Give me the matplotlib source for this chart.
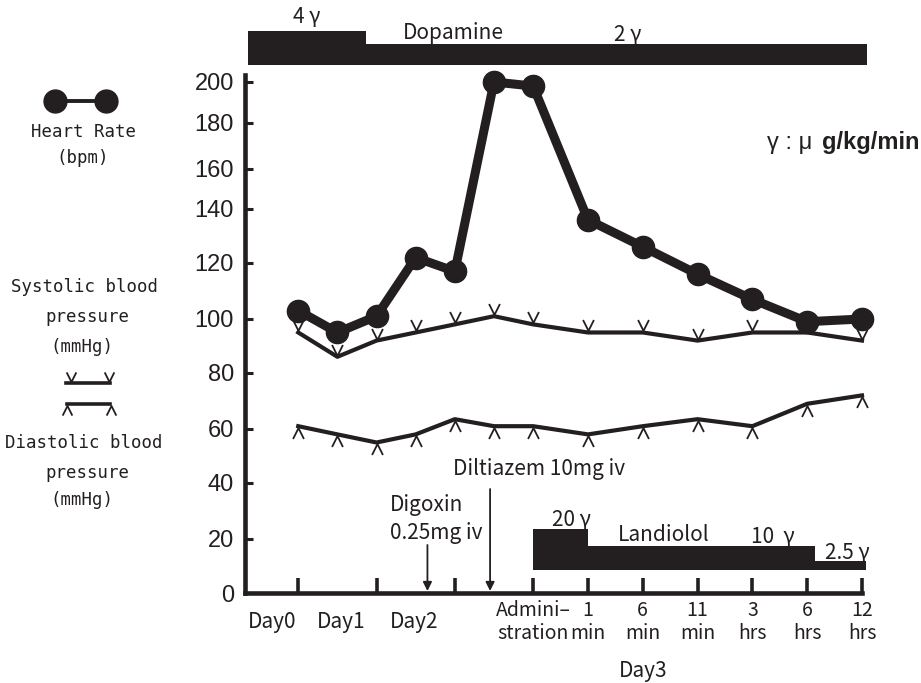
import numpy as np
import matplotlib
matplotlib.use("Agg")
import matplotlib.pyplot as plt
from matplotlib.patches import Rectangle
from matplotlib.path import Path
from matplotlib.transforms import blended_transform_factory

INK = '#231f20'
plt.rcParams['font.family'] = ['Noto Sans CJK JP', 'DejaVu Sans']
plt.rcParams['text.color'] = INK

# time slots: Day0..Day2 in half days, then Day3 time points
slots = [0, 0.5, 1, 1.5, 2, 2.5, 3, 4, 5, 6, 7, 8, 9]
heart_rate = [103, 95, 101, 122, 117, 200, 198, 136, 126, 116, 107, 99, 100]
systolic = [95, 86, 92, 95, 98, 101, 98, 95, 95, 92, 95, 95, 92]
diastolic = [61, 58, 55, 58, 63.5, 61, 61, 58, 61, 63.5, 61, 69, 72]

tick_slots = [0, 1, 2, 3, 4, 5, 6, 7, 8, 9]
tick_labels = ['', '', '', 'Admini–\nstration', '1\nmin', '6\nmin', '11\nmin',
               '3\nhrs', '6\nhrs', '12\nhrs']
day_labels = ['Day0', 'Day1', 'Day2']
day_label_slots = [-0.33, 0.55, 1.48]
y_ticks = [0, 20, 40, 60, 80, 100, 120, 140, 160, 180, 200]

# drug infusions
dopamine_start = [-0.64, 0.87]
dopamine_end = [0.87, 9.1]
landiolol_start = [3, 4, 8.15]
landiolol_end = [4, 8.15, 9.08]
digoxin_slot = 1.65
diltiazem_slot = 2.45

# the printed y axis is not evenly spaced, follow its tick spacing
y_marks = [0, 20, 40, 60, 80, 100, 120, 140, 160, 180, 200, 220]
y_room = [0, 54, 110, 164, 220, 274, 330, 384, 424, 470, 511, 552]


def y_fwd(v):
    return np.interp(v, y_marks, y_room)


def y_inv(u):
    return np.interp(u, y_room, y_marks)


# Day3 hours are drawn closer together than the days
def x_fwd(x):
    x = np.asarray(x, dtype=float)
    return np.where(x <= 3, x, 3 + 0.7 * (x - 3))


def x_inv(u):
    u = np.asarray(u, dtype=float)
    return np.where(u <= 3, u, 3 + (u - 3) / 0.7)


fig = plt.figure(figsize=(9.21, 6.83), dpi=100)
ax = fig.add_axes([245 / 921, 90 / 683, 617 / 921, 518 / 683])
ax.set_xscale('function', functions=(x_fwd, x_inv))
ax.set_yscale('function', functions=(y_fwd, y_inv))
ax.set_xlim(-0.68, 9.0)
ax.set_ylim(0, 203.4)

for s in ['top', 'right']:
    ax.spines[s].set_visible(False)
for s in ['left', 'bottom']:
    ax.spines[s].set_linewidth(3.3)
    ax.spines[s].set_color(INK)

ax.set_yticks(y_ticks)
ax.set_yticklabels([str(v) for v in y_ticks],
                   family=['Liberation Sans', 'DejaVu Sans'])
ax.tick_params(axis='y', direction='in', length=5.5, width=2.2, color=INK,
               labelsize=17, pad=8, labelcolor=INK)
ax.set_xticks(tick_slots)
ax.set_xticklabels(tick_labels, linespacing=1.15)
ax.tick_params(axis='x', direction='in', length=11, width=2.6, color=INK,
               labelsize=14, pad=5, labelcolor=INK)
ax.minorticks_off()

v_mark = Path([(-0.5, 1.15), (0, 0.15), (0.5, 1.15)],
              [Path.MOVETO, Path.LINETO, Path.LINETO])
a_mark = Path([(-0.5, -1.15), (0, -0.15), (0.5, -1.15)],
              [Path.MOVETO, Path.LINETO, Path.LINETO])

# Blood pressure
ax.plot(slots, systolic, color=INK, lw=3, zorder=3, clip_on=False)
ax.plot(slots, systolic, ls='none', marker=v_mark, ms=18, mfc='none',
        mec=INK, mew=1.3, zorder=3, clip_on=False)
ax.plot(slots, diastolic, color=INK, lw=3, zorder=3, clip_on=False)
ax.plot(slots, diastolic, ls='none', marker=a_mark, ms=18, mfc='none',
        mec=INK, mew=1.3, zorder=3, clip_on=False)

# Heart rate
ax.plot(slots, heart_rate, color=INK, lw=6.5, marker='o', ms=16,
        zorder=5, clip_on=False)

# overlay in figure pixels for the notes around the plot
lax = fig.add_axes([0, 0, 1, 1])
lax.set_xlim(0, 921)
lax.set_ylim(683, 0)
lax.axis('off')
mix = blended_transform_factory(ax.transData, lax.transData)

# Dopamine bar
dop_top = [31, 44]
for x0, x1, top in zip(dopamine_start, dopamine_end, dop_top):
    lax.add_patch(Rectangle((x0, top), x1 - x0, 65 - top, transform=mix,
                            color=INK, lw=0, clip_on=False))
lax.text(307, 17, '4 γ', fontsize=15, ha='center', va='center')
lax.text(453, 33, 'Dopamine', fontsize=15, ha='center', va='center')
lax.text(628, 35, '2 γ', fontsize=15, ha='center', va='center')

# Landiolol bar
lan_top = [529, 546, 561]
for x0, x1, top in zip(landiolol_start, landiolol_end, lan_top):
    lax.add_patch(Rectangle((x0, top), x1 - x0, 570 - top, transform=mix,
                            color=INK, lw=0, clip_on=False))
lax.text(571, 520, '20 γ', fontsize=15, ha='center', va='center')
lax.text(664, 535, 'Landiolol', fontsize=15, ha='center', va='center')
lax.text(773, 537, '10  γ', fontsize=15, ha='center', va='center')
lax.text(847, 553, '2.5 γ', fontsize=15, ha='center', va='center')

# Drug boluses
lax.annotate('', xy=(digoxin_slot, 591), xytext=(digoxin_slot, 545),
             xycoords=mix, textcoords=mix,
             arrowprops=dict(arrowstyle='-|>', color=INK, lw=1.3,
                             mutation_scale=13, shrinkA=0, shrinkB=0))
lax.annotate('', xy=(diltiazem_slot, 591), xytext=(diltiazem_slot, 489),
             xycoords=mix, textcoords=mix,
             arrowprops=dict(arrowstyle='-|>', color=INK, lw=1.3,
                             mutation_scale=13, shrinkA=0, shrinkB=0))
lax.text(390, 505, 'Digoxin', fontsize=15, ha='left', va='center')
lax.text(390, 533, '0.25mg iv', fontsize=15, ha='left', va='center')
lax.text(453, 469, 'Diltiazem 10mg iv', fontsize=15, ha='left', va='center')

# day labels under the axis
for lab, sx in zip(day_labels, day_label_slots):
    lax.text(sx, 622, lab, transform=mix, fontsize=15, ha='center',
             va='center')
lax.text(5, 671, 'Day3', transform=mix, fontsize=15, ha='center',
         va='center')

# unit note
lax.text(812, 143, 'γ : μ', fontsize=17, ha='right', va='center',
         family=['Liberation Sans', 'DejaVu Sans'])
lax.text(919, 143, 'g/kg/min', fontsize=17, ha='right', va='center',
         fontweight='bold', family=['Liberation Sans', 'DejaVu Sans'])

# hand made legend on the left
mono = ['DejaVu Sans Mono', 'Noto Sans CJK JP']
lax.plot([55, 106], [101, 101], color=INK, lw=2.8, marker='o', ms=16.5)
lax.text(83, 132, 'Heart Rate', fontsize=12.5, ha='center', va='center',
         family=mono)
lax.text(83, 158, '(bpm)', fontsize=12.5, ha='center', va='center',
         family=mono)

lax.text(84, 287, 'Systolic blood', fontsize=12.5, ha='center',
         va='center', family=mono)
lax.text(87, 317, 'pressure', fontsize=12.5, ha='center', va='center',
         family=mono)
lax.text(82, 347, '(mmHg)', fontsize=12.5, ha='center', va='center',
         family=mono)
lax.plot([66, 110], [383, 383], color=INK, lw=2.6)
lax.plot([71, 109], [383, 383], ls='none', marker=v_mark, ms=16,
         mfc='none', mec=INK, mew=1.3)
lax.plot([67, 110], [404, 404], color=INK, lw=2.6)
lax.plot([67, 111], [404, 404], ls='none', marker=a_mark, ms=16,
         mfc='none', mec=INK, mew=1.3)
lax.text(84, 443, 'Diastolic blood', fontsize=12.5, ha='center',
         va='center', family=mono)
lax.text(87, 473, 'pressure', fontsize=12.5, ha='center', va='center',
         family=mono)
lax.text(82, 500, '(mmHg)', fontsize=12.5, ha='center', va='center',
         family=mono)

fig.savefig('out.png', dpi=100)
